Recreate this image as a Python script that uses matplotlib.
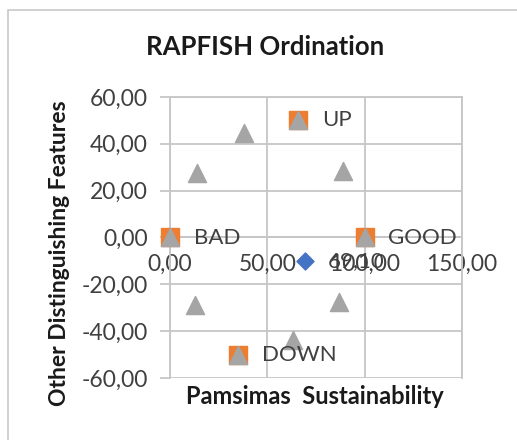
import matplotlib.pyplot as plt
from matplotlib.ticker import FuncFormatter, MultipleLocator
from matplotlib.patches import Rectangle

# status of Pamsimas (blue diamond)
status_x = [69.10]
status_y = [-10.0]

# reference anchors (orange squares)
anchor_x = [0, 100, 66, 35]
anchor_y = [0, 0, 50, -50]
anchor_names = ["BAD", "GOOD", "UP", "DOWN"]

# other anchors (grey triangles)
ref_x = [0, 100, 66, 35, 38, 14, 89, 13, 87, 63]
ref_y = [0, 0, 50, -50, 44.5, 27.5, 28.6, -28.8, -27.6, -43.8]

plt.rcParams['font.family'] = ['Lato', 'DejaVu Sans']

fig = plt.figure(figsize=(5.17, 4.40), dpi=100)
ax = fig.add_axes([170 / 517, 1 - 378 / 440, 292 / 517, 281 / 440])

# chart border
fig.patches.append(Rectangle((8 / 517, -0.1), 1.2, 1 - 10 / 440 + 0.1,
                             transform=fig.transFigure, fill=False,
                             edgecolor='#c8c8c8', linewidth=1.2))

grid_col = '#c6c6c6'
ax.set_xlim(0, 150)
ax.set_ylim(-60, 60)
ax.xaxis.set_major_locator(MultipleLocator(50))
ax.yaxis.set_major_locator(MultipleLocator(20))
fmt = FuncFormatter(lambda v, p: f"{v:.2f}".replace('.', ','))
ax.xaxis.set_major_formatter(fmt)
ax.yaxis.set_major_formatter(fmt)
ax.grid(True, color=grid_col, linewidth=1.3, zorder=0)
ax.set_axisbelow(True)

for s in ['top', 'right', 'left']:
    ax.spines[s].set_color(grid_col)
    ax.spines[s].set_linewidth(1.3)
ax.spines['bottom'].set_position(('data', 0))
ax.spines['bottom'].set_color(grid_col)
ax.spines['bottom'].set_linewidth(1.3)

ax.tick_params(axis='y', length=7, color=grid_col, width=1.3, pad=9,
               labelsize=16.5, labelcolor='#404040')
ax.tick_params(axis='x', length=0, pad=12, labelsize=16.5, labelcolor='#404040')

ax.scatter(status_x, status_y, marker='D', s=75, color='#4472C4', zorder=3, clip_on=False)
ax.scatter(anchor_x, anchor_y, marker='s', s=150, color='#ED7D31', zorder=4, clip_on=False)
ax.scatter(ref_x, ref_y, marker='^', s=170, color='#A5A5A5', zorder=5, clip_on=False)

for x, y, name in zip(anchor_x, anchor_y, anchor_names):
    ax.annotate(name, (x, y), xytext=(17, 0), textcoords='offset points',
                va='center', ha='left', fontsize=16, color='#404040', zorder=6)
ax.annotate(f"{status_x[0]:.2f}".replace('.', ','), (status_x[0], status_y[0]),
            xytext=(17, 0), textcoords='offset points', va='center', ha='left',
            fontsize=16, color='#404040', zorder=6)

fig.text(265 / 517, 1 - 47 / 440, "RAPFISH Ordination", ha='center', va='center',
         fontsize=18.5, fontweight='bold', color='#1a1a1a')
fig.text(315 / 517, 1 - 397 / 440, "Pamsimas  Sustainability", ha='center', va='center',
         fontsize=17, fontweight='bold', color='#1a1a1a')
fig.text(60 / 517, 1 - 253 / 440, "Other Distinguishing Features", ha='center', va='center',
         rotation=90, fontsize=16.5, fontweight='bold', color='#1a1a1a')

fig.savefig("out.png", dpi=100)
